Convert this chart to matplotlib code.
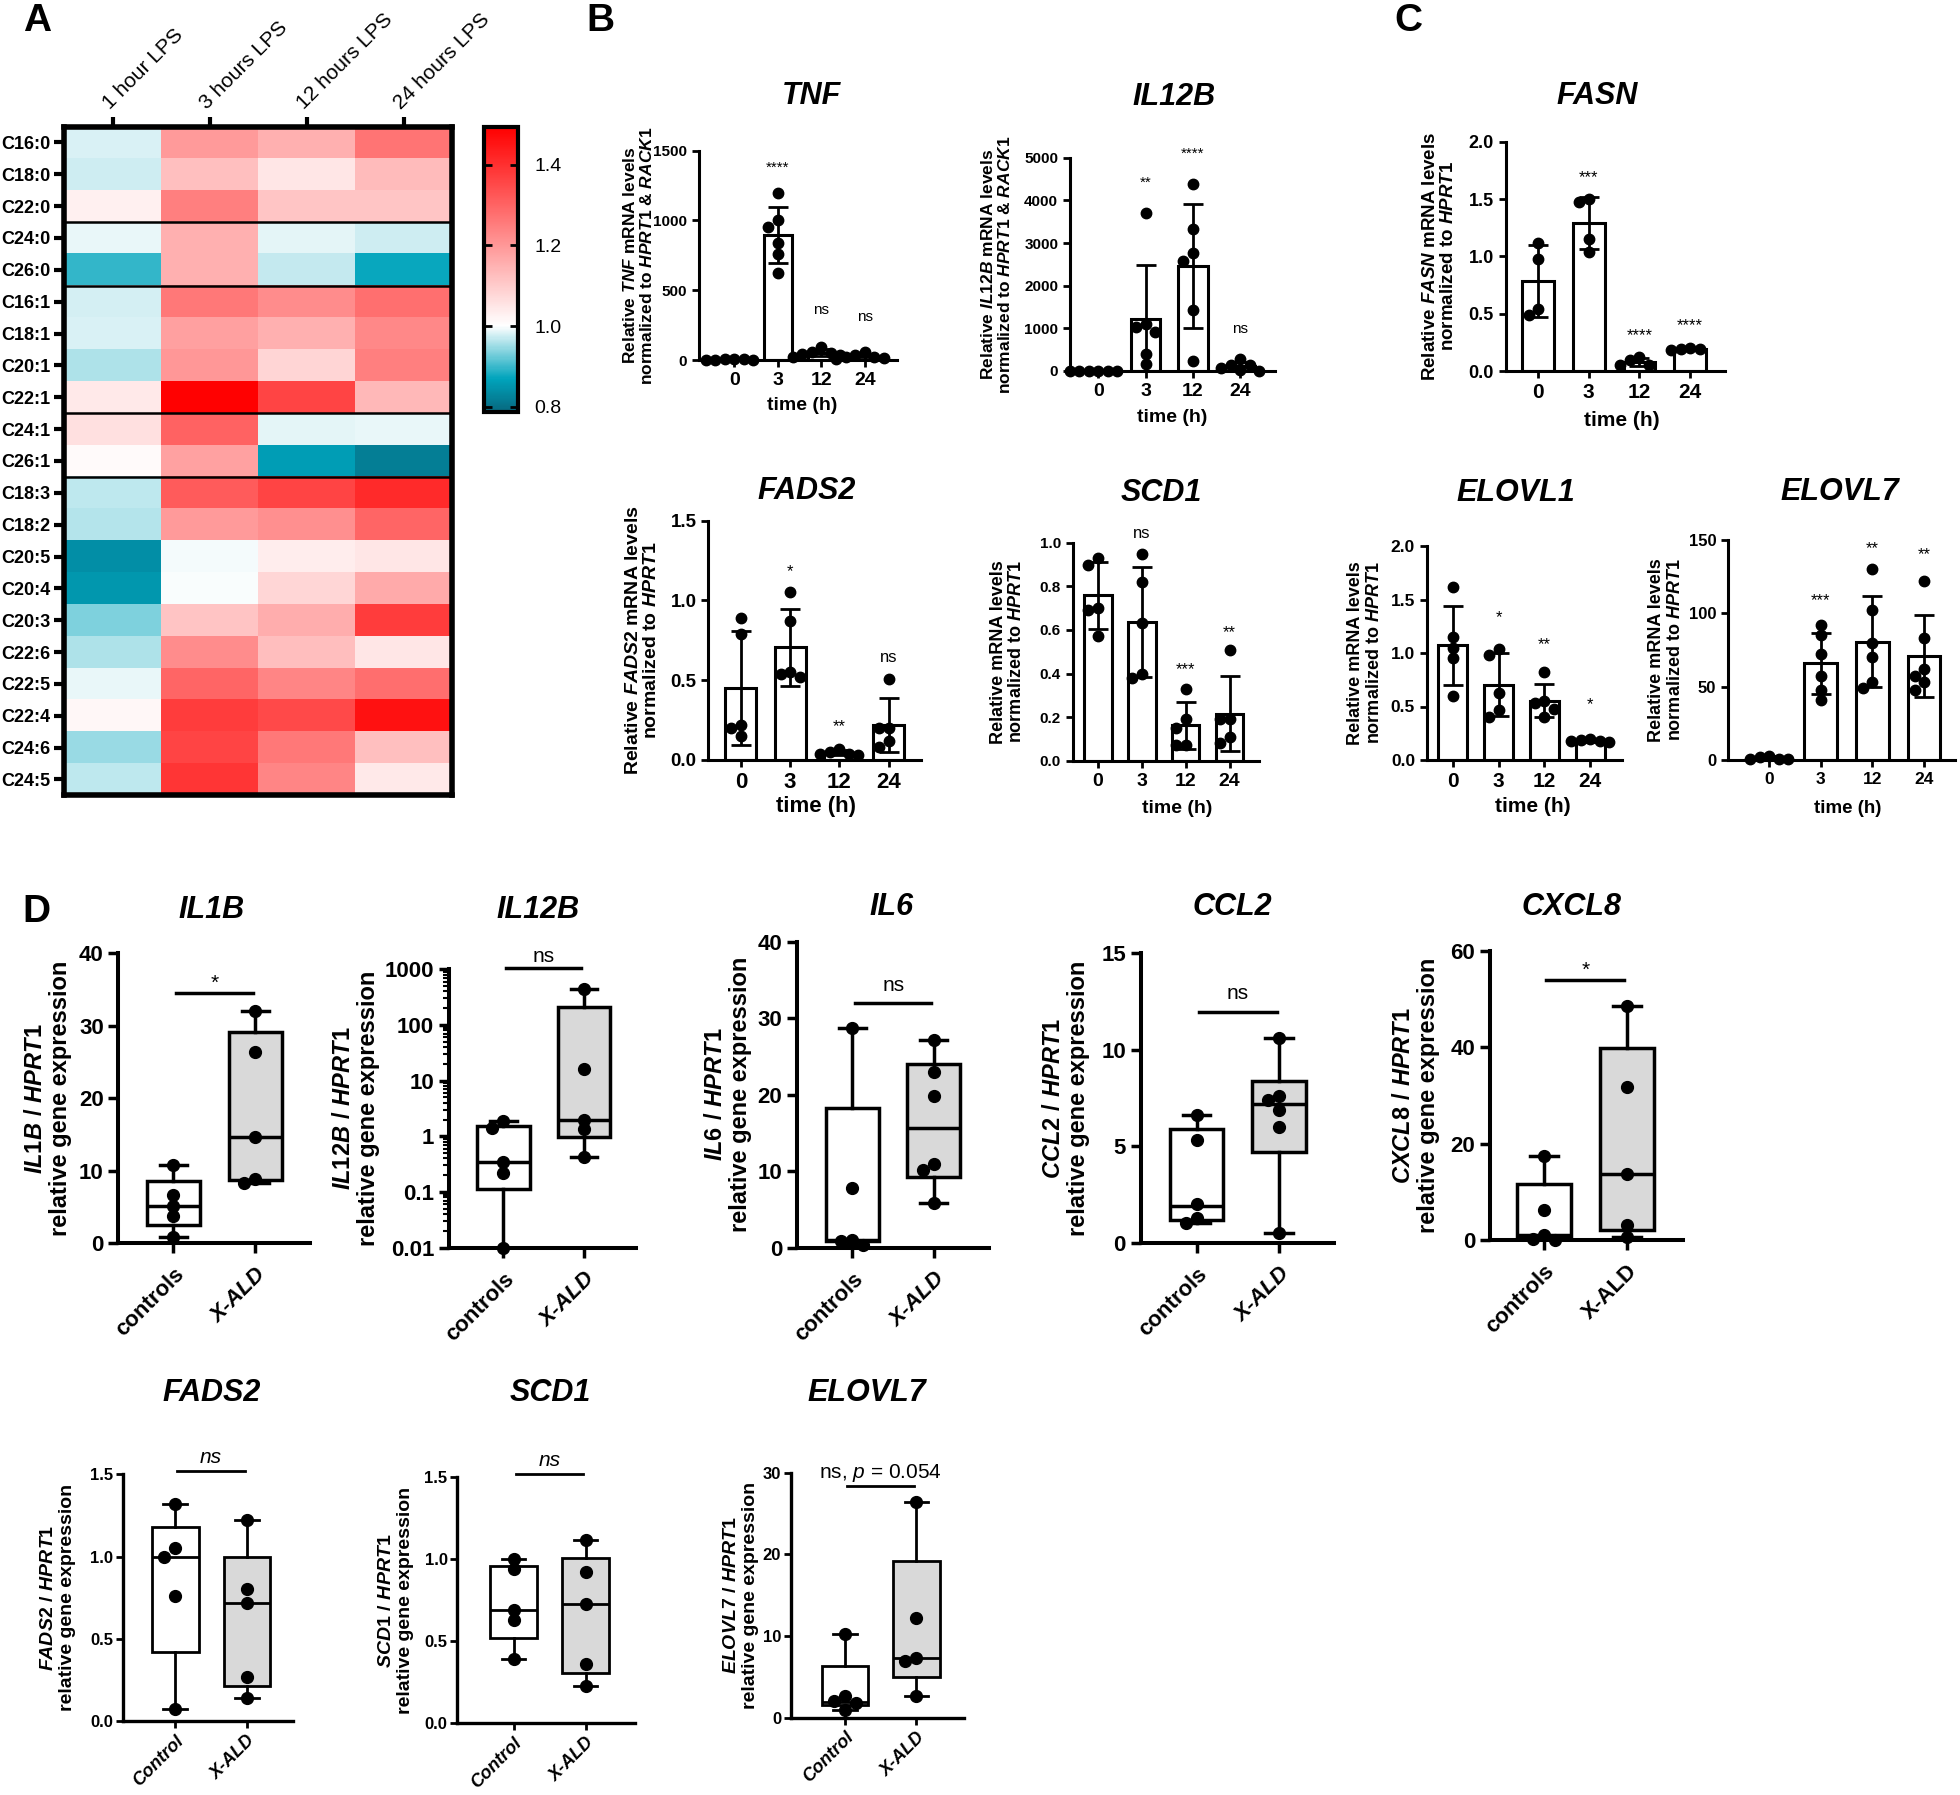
import numpy as np
import matplotlib
matplotlib.use("Agg")
import matplotlib.pyplot as plt
from matplotlib.colors import LinearSegmentedColormap, Normalize
from matplotlib.ticker import FormatStrFormatter, LogLocator, NullFormatter

plt.rcParams["font.family"] = ["Liberation Sans", "DejaVu Sans"]
plt.rcParams["mathtext.fontset"] = "custom"
plt.rcParams["mathtext.it"] = "Liberation Sans:italic:bold"
plt.rcParams["mathtext.rm"] = "Liberation Sans:bold"
plt.rcParams["mathtext.sf"] = "Liberation Sans:italic"

# ---------------- panel A : fold change heatmap ----------------
lipids = ["C16:0", "C18:0", "C22:0", "C24:0", "C26:0", "C16:1", "C18:1", "C20:1",
          "C22:1", "C24:1", "C26:1", "C18:3", "C18:2", "C20:5", "C20:4", "C20:3",
          "C22:6", "C22:5", "C22:4", "C24:6", "C24:5"]
lps_times = ["1 hour LPS", "3 hours LPS", "12 hours LPS", "24 hours LPS"]
fold_change = [
    [0.982, 1.195, 1.153, 1.267],
    [0.975, 1.122, 1.048, 1.130],
    [1.029, 1.246, 1.110, 1.110],
    [0.989, 1.153, 0.987, 0.976],
    [0.895, 1.153, 0.970, 0.874],
    [0.979, 1.261, 1.222, 1.276],
    [0.982, 1.184, 1.153, 1.230],
    [0.958, 1.199, 1.081, 1.246],
    [1.041, 1.490, 1.360, 1.137],
    [1.060, 1.300, 0.987, 0.990],
    [1.010, 1.180, 0.860, 0.820],
    [0.968, 1.315, 1.360, 1.410],
    [0.963, 1.195, 1.217, 1.296],
    [0.841, 0.995, 1.033, 1.048],
    [0.853, 0.997, 1.079, 1.164],
    [0.934, 1.114, 1.159, 1.375],
    [0.959, 1.222, 1.124, 1.048],
    [0.989, 1.296, 1.236, 1.280],
    [1.015, 1.375, 1.350, 1.458],
    [0.947, 1.360, 1.261, 1.122],
    [0.969, 1.390, 1.236, 1.041],
]
group_breaks = [3, 5, 9, 11]
cbar_ticks = [0.8, 1.0, 1.2, 1.4]

# ---------------- panels B/C : LPS time course ----------------
hours = ["0", "3", "12", "24"]
tnf = [[5, 3, 2, 4, 6, 3], [1200, 1000, 950, 840, 760, 620],
       [95, 60, 50, 40, 35, 25], [60, 35, 25, 20, 15, 10]]
tnf_sig = ["", "****", "ns", "ns"]
il12b_time = [[10, 8, 5, 5, 3, 2], [3710, 1100, 1020, 920, 410, 160],
              [4375, 3330, 2770, 2580, 1430, 235], [280, 150, 140, 60, 25, 10]]
il12b_time_sig = ["", "**", "****", "ns"]
fasn = [[1.12, 0.98, 0.54, 0.49], [1.47, 1.50, 1.15, 1.04],
        [0.12, 0.10, 0.05, 0.05], [0.20, 0.19, 0.19, 0.18]]
fasn_sig = ["", "***", "****", "****"]
fads2_time = [[0.89, 0.79, 0.22, 0.20, 0.15], [1.05, 0.87, 0.55, 0.54, 0.52],
              [0.07, 0.05, 0.04, 0.04, 0.03], [0.51, 0.20, 0.20, 0.12, 0.08]]
fads2_time_sig = ["", "*", "**", "ns"]
scd1_time = [[0.93, 0.90, 0.70, 0.69, 0.57], [0.95, 0.82, 0.63, 0.40, 0.38],
             [0.33, 0.19, 0.15, 0.07, 0.07], [0.51, 0.19, 0.19, 0.11, 0.08]]
scd1_time_sig = ["", "ns", "***", "**"]
elovl1 = [[1.62, 1.15, 1.05, 0.95, 0.60], [1.04, 0.98, 0.63, 0.47, 0.40],
          [0.82, 0.55, 0.53, 0.48, 0.40], [0.20, 0.19, 0.18, 0.18, 0.17]]
elovl1_sig = ["", "*", "**", "*"]
elovl7_time = [[3, 2, 1, 1, 1], [92, 85, 72, 57, 48, 41],
               [130, 102, 80, 70, 53, 49], [122, 83, 62, 57, 53, 48]]
elovl7_time_sig = ["", "***", "**", "**"]

# ---------------- panel D : patients vs controls ----------------
# box stats: [min, q1, median, q3, max]
il1b_pts = [[10.8, 6.7, 5.1, 3.8, 0.9], [32.0, 26.4, 14.6, 8.8, 8.3]]
il1b_box = [[0.9, 2.5, 5.1, 8.6, 10.8], [8.3, 8.7, 14.6, 29.1, 32.0]]
il12b_pts = [[1.9, 1.4, 0.35, 0.22, 0.01], [444, 16.2, 2.0, 1.35, 0.43]]
il12b_box = [[0.01, 0.113, 0.35, 1.55, 1.9], [0.43, 0.96, 2.0, 214, 444]]
il6_pts = [[28.7, 7.8, 1.0, 0.9, 0.4], [27.1, 23.0, 19.8, 11.0, 10.2, 5.8]]
il6_box = [[0.4, 0.9, 1.0, 18.2, 28.7], [5.8, 9.2, 15.6, 24.0, 27.1]]
ccl2_pts = [[6.6, 5.3, 2.0, 1.3, 1.0], [10.6, 7.6, 7.4, 6.9, 6.0, 0.5]]
ccl2_box = [[1.0, 1.2, 1.9, 5.9, 6.6], [0.5, 4.7, 7.2, 8.4, 10.6]]
cxcl8_pts = [[17.5, 6.3, 1.0, 0.2, 0.1], [48.6, 31.8, 13.7, 3.1, 0.7]]
cxcl8_box = [[0.1, 0.6, 1.0, 11.7, 17.5], [0.7, 2.1, 13.7, 39.9, 48.6]]
fads2_pts = [[1.32, 1.05, 1.00, 0.76, 0.07], [1.22, 0.80, 0.72, 0.27, 0.14]]
fads2_box = [[0.07, 0.42, 1.0, 1.18, 1.32], [0.14, 0.21, 0.72, 1.0, 1.22]]
scd1_pts = [[1.00, 0.94, 0.69, 0.63, 0.39], [1.12, 0.92, 0.73, 0.36, 0.23]]
scd1_box = [[0.39, 0.52, 0.69, 0.96, 1.0], [0.23, 0.305, 0.73, 1.01, 1.12]]
elovl7_pts = [[10.3, 2.6, 2.0, 1.8, 1.0], [26.4, 12.2, 7.3, 6.9, 2.7]]
elovl7_box = [[1.0, 1.55, 1.96, 6.3, 10.3], [2.7, 5.0, 7.3, 19.2, 26.4]]
groups_a = ["controls", "X-ALD"]
groups_b = ["Control", "X-ALD"]

W, H = 1960, 1795
fig = plt.figure(figsize=(W / 100, H / 100), dpi=100)


def rect(l, t, r, b):
    return [l / W, 1 - b / H, (r - l) / W, (b - t) / H]


def ftext(x, y, s, **kw):
    kw.setdefault("ha", "center")
    kw.setdefault("va", "center")
    fig.text(x / W, 1 - y / H, s, **kw)


def spread(vals, tol, step):
    vals = np.asarray(vals, dtype=float)
    offs = np.zeros(len(vals))
    placed = []
    cands = [0.0] + [s * k * step for k in range(1, 6) for s in (-1, 1)]
    for i in np.argsort(-vals):
        for c in cands:
            if all(abs(c - px) >= 0.95 * step or abs(vals[i] - py) >= tol for px, py in placed):
                offs[i] = c
                break
        placed.append((offs[i], vals[i]))
    return offs


def clean(ax, lw, tl, tw):
    for s in ["top", "right"]:
        ax.spines[s].set_visible(False)
    for s in ["left", "bottom"]:
        ax.spines[s].set_linewidth(lw)
    ax.tick_params(length=tl, width=tw)


# ---- A ----
cmap = LinearSegmentedColormap.from_list(
    "teal_red", [(0, "#07687f"), (0.115, "#00a4bc"), (0.302, "#ffffff"), (1.0, "#ff0000")])
norm = Normalize(0.787, 1.493)
ax = fig.add_axes(rect(64, 126.5, 452, 795.4))
im = ax.imshow(np.array(fold_change), cmap=cmap, norm=norm, aspect="auto", interpolation="nearest")
for g in group_breaks:
    ax.axhline(g - 0.5, color="black", lw=1.8)
ax.set_yticks(range(len(lipids)))
ax.set_yticklabels(lipids, fontsize=13, fontweight="bold")
ax.xaxis.tick_top()
ax.set_xticks(range(len(lps_times)))
ax.set_xticklabels(lps_times, rotation=45, ha="left", va="bottom",
                   rotation_mode="anchor", fontsize=15)
ax.tick_params(length=7, width=3, pad=3)
for s in ax.spines.values():
    s.set_linewidth(4)
cax = fig.add_axes(rect(484, 127, 518, 412))
cb = fig.colorbar(im, cax=cax, ticks=cbar_ticks)
cb.outline.set_linewidth(3)
cax.tick_params(direction="in", length=6, width=2, labelsize=14, left=True, right=True, pad=12)
cax.yaxis.set_major_formatter(FormatStrFormatter("%.1f"))
ftext(37, 21, "A", fontsize=28, fontweight="bold")
ftext(600, 21, "B", fontsize=28, fontweight="bold")
ftext(1408, 21, "C", fontsize=28, fontweight="bold")
ftext(36, 912, "D", fontsize=28, fontweight="bold")


# ---- B / C ----
def bar_panel(box, xlim, pts, sig, sig_y, ylim, yticks, fmt, title, title_xy,
              ylabel, ylab_x, xlab_xy, fs):
    l, t, r, b = box
    ax = fig.add_axes(rect(*box))
    x = np.arange(len(pts))
    means = [np.mean(p) for p in pts]
    sds = [np.std(p, ddof=1) for p in pts]
    ax.bar(x, means, width=0.63, color="white", edgecolor="black", linewidth=2.2, zorder=1)
    ax.errorbar(x, means, yerr=sds, fmt="none", ecolor="black", elinewidth=2,
                capsize=7, capthick=2, zorder=2)
    pxu = (r - l) / (xlim[1] - xlim[0])
    pyu = (b - t) / (ylim[1] - ylim[0])
    for i, p in enumerate(pts):
        offs = spread(p, 10 / pyu, 9.5 / pxu)
        ax.plot(i + offs, p, "o", color="black", ms=7.5, zorder=3, clip_on=False)
        if sig[i]:
            ax.text(i, sig_y[i], sig[i], ha="center", va="center", fontsize=fs[4])
    ax.set_xlim(*xlim)
    ax.set_ylim(*ylim)
    ax.set_xticks(x)
    ax.set_xticklabels(hours, fontsize=fs[1], fontweight="bold")
    ax.set_yticks(yticks)
    ax.yaxis.set_major_formatter(FormatStrFormatter(fmt))
    for lab in ax.get_yticklabels():
        lab.set_fontsize(fs[0])
        lab.set_fontweight("bold")
    clean(ax, 2.2, 5, 2)
    ftext(*title_xy, title, fontsize=22, fontweight="bold", fontstyle="italic")
    ftext(ylab_x, (t + b) / 2, ylabel, rotation=90, fontsize=fs[2], fontweight="bold",
          linespacing=1.1, multialignment="center")
    ftext(*xlab_xy, "time (h)", fontsize=fs[3], fontweight="bold")
    return ax


bar_panel((698.9, 150.7, 896.6, 360), (-0.816, 3.73), tnf, tnf_sig, [0, 1376, 358, 308],
          (0, 1500), [0, 500, 1000, 1500], "%d", "TNF", (811.5, 96),
          "Relative $\\mathit{TNF}$ mRNA levels\nnormalized to $\\mathit{HPRT1}$ & $\\mathit{RACK1}$",
          638.5, (802.5, 405), (11, 14, 12.5, 14, 11))
bar_panel((1070, 157.7, 1275, 371), (-0.6, 3.74), il12b_time, il12b_time_sig,
          [0, 4407, 5087, 985], (0, 5000), [0, 1000, 2000, 3000, 4000, 5000], "%d",
          "IL12B", (1174, 97),
          "Relative $\\mathit{IL12B}$ mRNA levels\nnormalized to $\\mathit{HPRT1}$ & $\\mathit{RACK1}$",
          996.4, (1172, 418), (11, 14, 12.5, 14, 11))
bar_panel((1505.7, 141.7, 1724.6, 371), (-0.64, 3.68), fasn, fasn_sig,
          [0, 1.683, 0.305, 0.40], (0, 2), [0, 0.5, 1.0, 1.5, 2.0], "%.1f",
          "FASN", (1597, 96.5),
          "Relative $\\mathit{FASN}$ mRNA levels\nnormalized to $\\mathit{HPRT1}$",
          1439.5, (1622, 420), (13, 15, 13.5, 15, 12))
bar_panel((708.4, 520.7, 921, 760), (-0.66, 3.66), fads2_time, fads2_time_sig,
          [0, 1.18, 0.209, 0.644], (0, 1.5), [0, 0.5, 1.0, 1.5], "%.1f",
          "FADS2", (807, 491),
          "Relative $\\mathit{FADS2}$ mRNA levels\nnormalized to $\\mathit{HPRT1}$",
          642.3, (815.8, 806.7), (13.5, 16, 14, 16, 12))
bar_panel((1072.7, 542.7, 1259, 760.7), (-0.57, 3.67), scd1_time, scd1_time_sig,
          [0, 1.043, 0.419, 0.589], (0, 1.0), [0, 0.2, 0.4, 0.6, 0.8, 1.0], "%.1f",
          "SCD1", (1161.6, 493),
          "Relative mRNA levels\nnormalized to $\\mathit{HPRT1}$",
          1007.7, (1176.8, 808.3), (11, 14, 13, 14, 12))
bar_panel((1426.9, 546, 1622, 760), (-0.56, 3.69), elovl1, elovl1_sig,
          [0, 1.334, 1.075, 0.514], (0, 2.0), [0, 0.5, 1.0, 1.5, 2.0], "%.1f",
          "ELOVL1", (1516, 493),
          "Relative mRNA levels\nnormalized to $\\mathit{HPRT1}$",
          1364.9, (1533, 806.7), (12.5, 15, 13, 15, 12))
bar_panel((1728.2, 540, 1955, 760), (-0.79, 3.6), elovl7_time, elovl7_time_sig,
          [0, 109, 144, 139.8], (0, 150), [0, 50, 100, 150], "%d",
          "ELOVL7", (1840, 492),
          "Relative mRNA levels\nnormalized to $\\mathit{HPRT1}$",
          1665.9, (1847.5, 808.3), (12, 12.5, 13, 13.5, 12))


# ---- D ----
def box_panel(box, xlim, pts, stats, cats, cat_italic, sig, sig_bar, sig_y, ylim, yticks,
              ylabels, title, title_xy, ylabel, ylab_x, fs, lw, log=False, sig_italic=False,
              xpad=8, tick_len=7, ypad=3.5):
    l, t, r, b = box
    ax = fig.add_axes(rect(*box))
    if log:
        ax.set_yscale("log")
    bstats = [dict(whislo=s[0], q1=s[1], med=s[2], q3=s[3], whishi=s[4], fliers=[]) for s in stats]
    bp = ax.bxp(bstats, positions=[0, 1], widths=0.65, patch_artist=True, showfliers=False,
                capwidths=0.33, manage_ticks=False,
                boxprops=dict(edgecolor="black", linewidth=lw),
                whiskerprops=dict(color="black", linewidth=lw),
                capprops=dict(color="black", linewidth=lw),
                medianprops=dict(color="black", linewidth=lw))
    bp["boxes"][0].set_facecolor("white")
    bp["boxes"][1].set_facecolor("#d9d9d9")
    pxu = (r - l) / (xlim[1] - xlim[0])
    if log:
        pyu = (b - t) / (np.log10(ylim[1]) - np.log10(ylim[0]))
    else:
        pyu = (b - t) / (ylim[1] - ylim[0])
    for i, p in enumerate(pts):
        v = np.log10(p) if log else np.asarray(p)
        offs = spread(v, 9 / pyu, 11 / pxu)
        ax.plot(i + offs, p, "o", color="black", ms=8.5, zorder=4, clip_on=False)
    ax.plot([0.03, 0.97], [sig_bar, sig_bar], color="black", lw=lw, clip_on=False)
    ax.text(0.5, sig_y, sig, ha="center", va="center", fontsize=fs[3],
            fontstyle="italic" if sig_italic else "normal")
    ax.set_xlim(*xlim)
    ax.set_ylim(*ylim)
    ax.set_yticks(yticks)
    ax.set_yticklabels(ylabels, fontsize=fs[0], fontweight="bold")
    if log:
        ax.yaxis.set_minor_locator(LogLocator(base=10, subs=np.arange(2, 10)))
        ax.yaxis.set_minor_formatter(NullFormatter())
        ax.tick_params(which="minor", length=4, width=1.5)
    ax.set_xticks([0, 1])
    ax.set_xticklabels(cats, rotation=45, ha="right", va="top", rotation_mode="anchor",
                       fontsize=fs[1], fontweight="bold")
    for lab, it in zip(ax.get_xticklabels(), cat_italic):
        lab.set_fontstyle("italic" if it else "normal")
    clean(ax, lw + 0.4, tick_len, lw)
    ax.tick_params(axis="x", pad=xpad)
    ax.tick_params(axis="y", pad=ypad)
    ftext(*title_xy, title, fontsize=22, fontweight="bold", fontstyle="italic")
    ftext(ylab_x, (t + b) / 2, ylabel, rotation=90, fontsize=fs[2], fontweight="bold",
          linespacing=1.15, multialignment="center")
    return ax


row1 = (16, 16, 17, 15)
box_panel((118.3, 953.3, 310.3, 1243.3), (-0.67, 1.67), il1b_pts, il1b_box, groups_a,
          (False, True), "*", 34.5, 35.9, (0, 40), [0, 10, 20, 30, 40],
          ["0", "10", "20", "30", "40"], "IL1B", (212, 910),
          "$\\mathit{IL1B\\ /\\ HPRT1}$\nrelative gene expression", 48, row1, 2.5)
box_panel((448.7, 969.3, 636.2, 1247.7), (-0.68, 1.65), il12b_pts, il12b_box, groups_a,
          (False, True), "ns", 1040, 1730, (0.01, 1000), [0.01, 0.1, 1, 10, 100, 1000],
          ["0.01", "0.1", "1", "10", "100", "1000"], "IL12B", (538, 910),
          "$\\mathit{IL12B\\ /\\ HPRT1}$\nrelative gene expression", 356, row1, 2.5, log=True)
box_panel((797, 941.7, 988.5, 1247.7), (-0.68, 1.67), il6_pts, il6_box, groups_a,
          (False, True), "ns", 31.95, 34.3, (0, 40), [0, 10, 20, 30, 40],
          ["0", "10", "20", "30", "40"], "IL6", (892, 907),
          "$\\mathit{IL6\\ /\\ HPRT1}$\nrelative gene expression", 728, row1, 2.5)
box_panel((1140.5, 953.3, 1334.3, 1242.7), (-0.68, 1.67), ccl2_pts, ccl2_box, groups_a,
          (False, True), "ns", 11.97, 12.9, (0, 15), [0, 5, 10, 15],
          ["0", "5", "10", "15"], "CCL2", (1232, 907),
          "$\\mathit{CCL2\\ /\\ HPRT1}$\nrelative gene expression", 1066, row1, 2.5)
box_panel((1489.9, 951, 1683.4, 1240), (-0.65, 1.68), cxcl8_pts, cxcl8_box, groups_a,
          (False, False), "*", 54, 56, (0, 60), [0, 20, 40, 60],
          ["0", "20", "40", "60"], "CXCL8", (1571.5, 907),
          "$\\mathit{CXCL8\\ /\\ HPRT1}$\nrelative gene expression", 1416, row1, 2.5)

row2 = (12, 13, 14, 15)
box_panel((123, 1474.3, 293.4, 1721), (-0.73, 1.65), fads2_pts, fads2_box, groups_b,
          (True, True), "ns", 1.52, 1.6, (0, 1.5), [0, 0.5, 1.0, 1.5],
          ["0.0", "0.5", "1.0", "1.5"], "FADS2", (212, 1393),
          "$\\mathit{FADS2\\ /\\ HPRT1}$\nrelative gene expression", 58, row2, 2.0,
          sig_italic=True, xpad=3, tick_len=5, ypad=2)
box_panel((457.3, 1477.3, 634.6, 1723.3), (-0.78, 1.68), scd1_pts, scd1_box, groups_b,
          (True, True), "ns", 1.52, 1.6, (0, 1.5), [0, 0.5, 1.0, 1.5],
          ["0.0", "0.5", "1.0", "1.5"], "SCD1", (550, 1393),
          "$\\mathit{SCD1\\ /\\ HPRT1}$\nrelative gene expression", 396, row2, 2.0,
          sig_italic=True, xpad=3, tick_len=5, ypad=2)
box_panel((790.8, 1472.7, 964.3, 1717.7), (-0.76, 1.67), elovl7_pts, elovl7_box, groups_b,
          (True, True), "ns, $\\mathsf{p}$ = 0.054", 28.4, 30.0, (0, 30), [0, 10, 20, 30],
          ["0", "10", "20", "30"], "ELOVL7", (867, 1393),
          "$\\mathit{ELOVL7\\ /\\ HPRT1}$\nrelative gene expression", 741, row2, 2.0,
          xpad=3, tick_len=5, ypad=2)

fig.savefig("out.png", dpi=100, facecolor="white")
